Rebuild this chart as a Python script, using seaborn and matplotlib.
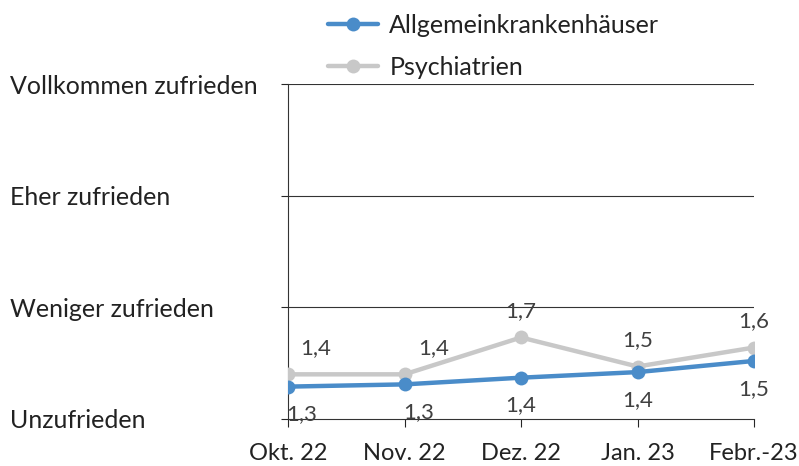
import pandas as pd
import numpy as np
import seaborn as sns
import matplotlib.pyplot as plt

# data
months = ["Okt. 22", "Nov. 22", "Dez. 22", "Jan. 23", "Febr.-23"]
allgemein = [1.29, 1.31, 1.37, 1.42, 1.52]
psychiatrien = [1.40, 1.40, 1.73, 1.47, 1.64]
series_names = ["Allgemeinkrankenhäuser", "Psychiatrien"]
level_labels = ["Unzufrieden", "Weniger zufrieden", "Eher zufrieden", "Vollkommen zufrieden"]
level_values = [1, 2, 3, 4]

colors = {"Allgemeinkrankenhäuser": "#4a8cc9", "Psychiatrien": "#c8c8c8"}

sns.set_style("white")
plt.rcParams["font.family"] = ["Lato", "DejaVu Sans"]

df = pd.DataFrame({
    "Monat": months * 2,
    "x": list(range(len(months))) * 2,
    "Wert": allgemein + psychiatrien,
    "Gruppe": [series_names[0]] * len(months) + [series_names[1]] * len(months),
})

fig = plt.figure(figsize=(7.99, 4.66), dpi=100)
ax = fig.add_axes([288 / 799, 1 - 419 / 466, (754 - 288) / 799, (419 - 84) / 466])

# grey first so blue sits on top
for name in series_names[::-1]:
    sub = df[df["Gruppe"] == name]
    sns.lineplot(data=sub, x="x", y="Wert", ax=ax, color=colors[name], linewidth=3.2,
                 marker="o", markersize=10, markeredgewidth=0, label=name, zorder=3,
                 legend=False)

# data labels: grey above, blue below (first two nudged right)
nudge = [20, 21, 0, 0, 0]
nudge_b = [10, 10, 0, 0, 0]
for i, v in enumerate(psychiatrien):
    ax.annotate(f"{v:.1f}".replace(".", ","), (i, v), xytext=(nudge[i], 19),
                textcoords="offset points", ha="center", va="center", fontsize=16, color="#404040")
for i, v in enumerate(allgemein):
    ax.annotate(f"{v:.1f}".replace(".", ","), (i, v), xytext=(nudge_b[i], -20),
                textcoords="offset points", ha="center", va="center", fontsize=16, color="#404040")

ax.set_xlim(0, len(months) - 1)
ax.set_ylim(1, 4)
ax.set_xticks(range(len(months)))
ax.set_xticklabels(months, fontsize=17, color="#222222")
ax.set_yticks(level_values)
ax.set_yticklabels(level_labels, fontsize=18, color="#222222")
for lab in ax.get_yticklabels():
    lab.set_ha("left")
ax.tick_params(axis="y", length=5, width=0.8, pad=195, direction="out", left=True)
ax.tick_params(axis="x", length=6, width=0.8, pad=11, direction="out", bottom=True)
ax.set_xlabel("")
ax.set_ylabel("")

for y in level_values[1:]:
    ax.axhline(y, color="#333333", linewidth=0.8, zorder=1)

for side in ["top", "right"]:
    ax.spines[side].set_visible(False)
for side in ["left", "bottom"]:
    ax.spines[side].set_color("#333333")
    ax.spines[side].set_linewidth(0.8)

handles = [plt.Line2D([], [], color=colors[n], linewidth=3.2, marker="o", markersize=10,
                      markeredgewidth=0) for n in series_names]
fig.legend(handles, series_names, loc="upper left", bbox_to_anchor=(318 / 799, 1 - 4 / 466),
           frameon=False, fontsize=18, handlelength=2.0, handletextpad=0.45, labelspacing=0.75,
           borderaxespad=0, labelcolor="#222222")

fig.savefig("out.png", dpi=100)
